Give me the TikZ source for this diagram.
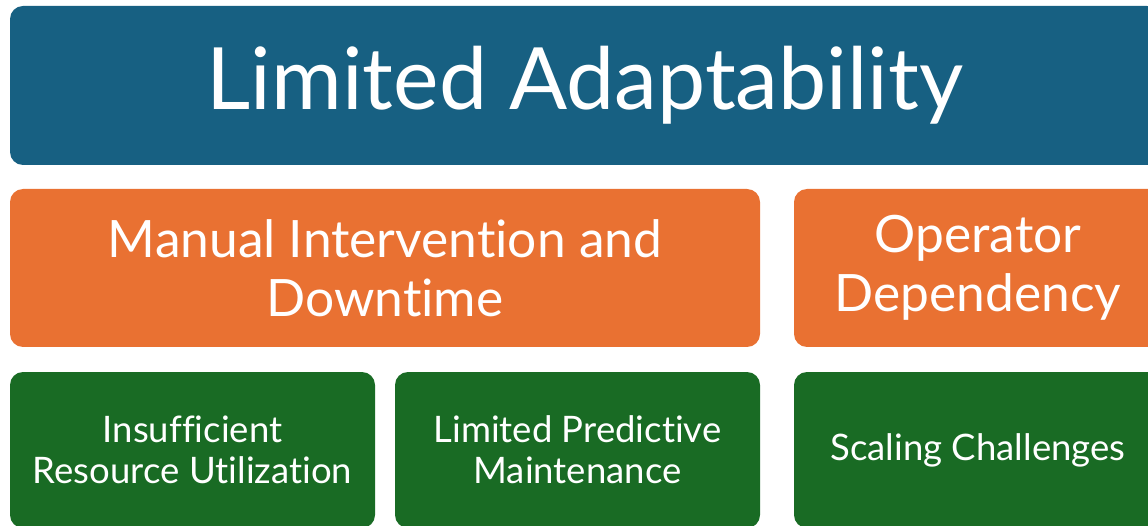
\documentclass[tikz,border=0pt]{standalone}
\usepackage{fontspec}
\setmainfont[Ligatures=NoCommon]{Lato}
\definecolor{azulcab}{RGB}{23,96,130}
\definecolor{naranja}{RGB}{233,113,50}
\definecolor{verde}{RGB}{25,107,36}
\tikzset{
  caja/.style={rounded corners=13pt,inner sep=0pt,align=center,text=white},
  headbox/.style={caja,fill=azulcab,font=\fontsize{86}{100}\selectfont},
  midbox/.style={caja,fill=naranja,font=\fontsize{51.5}{59}\selectfont},
  leafbox/.style={caja,fill=verde,font=\fontsize{36.5}{41}\selectfont}
}
\begin{document}
\begin{tikzpicture}[x=1pt,y=-1pt]
  % Marco de la figura (recortado)
  \useasboundingbox (0,0) rectangle (1148,526);
  \clip (0,0) rectangle (1148,526);
  % Cabecera
  \node[headbox,minimum width=1150pt,minimum height=159pt] (title) at (585,85.5)
    {Limited Adaptability};
  % Segundo nivel
  \node[midbox,minimum width=750pt,minimum height=158pt] (manual) at (385,268)
    {Manual Intervention and\\Downtime};
  \node[midbox,minimum width=368pt,minimum height=158pt] (operator) at (978,268)
    {Operator\\Dependency};
  % Tercer nivel
  \node[leafbox,minimum width=365pt,minimum height=156pt] (insufficient) at (192.5,450)
    {Insufficient\\Resource Utilization};
  \node[leafbox,minimum width=365pt,minimum height=156pt] (predictive) at (577.5,450)
    {Limited Predictive\\Maintenance};
  \node[leafbox,minimum width=368pt,minimum height=156pt] (scaling) at (978,450)
    {Scaling Challenges};
\end{tikzpicture}
\end{document}
